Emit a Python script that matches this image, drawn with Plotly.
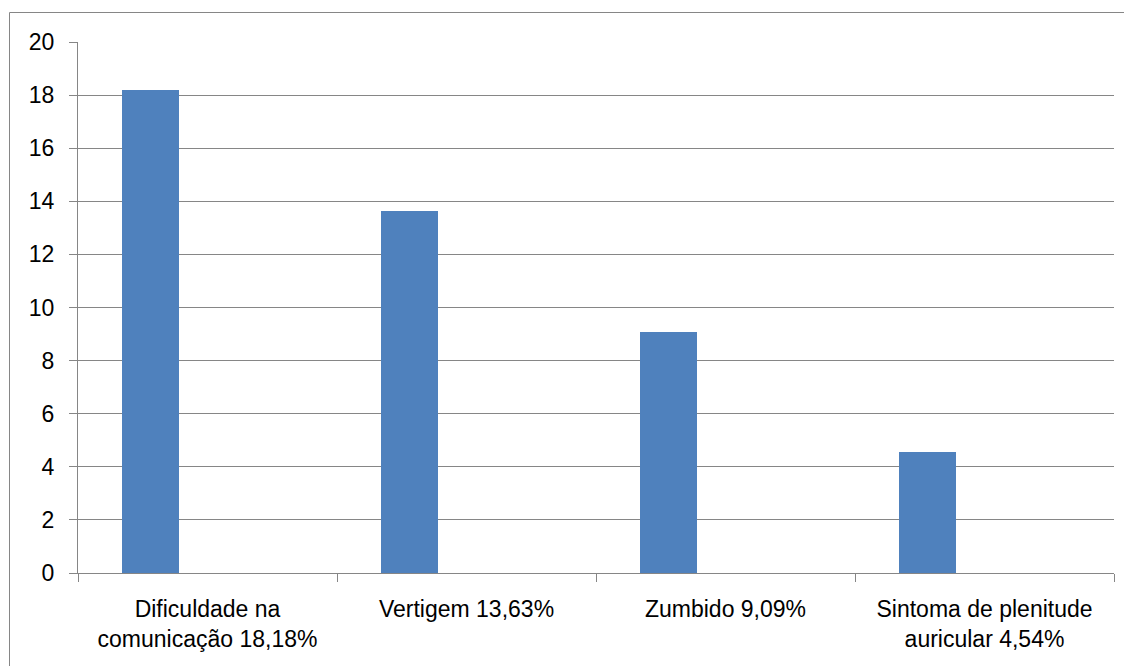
import plotly.graph_objects as go

categories = ["Dificuldade na<br>comunicação 18,18%", "Vertigem 13,63%", "Zumbido 9,09%",
              "Sintoma de plenitude<br>auricular 4,54%"]
values = [18.18, 13.63, 9.09, 4.54]
y_ticks = [0, 2, 4, 6, 8, 10, 12, 14, 16, 18, 20]

# page body has an 8px margin, so the figure starts at (8, 8)
W, H = 1124, 658
ml, mr, mt, mb = 70, 18, 34, 93

fig = go.Figure()
fig.add_trace(go.Bar(
    x=categories, y=values,
    width=0.221, offset=-0.332,
    marker=dict(color="#4F81BD", line=dict(width=0)),
    showlegend=False,
))

grey = "#868686"
font = dict(family="Liberation Sans, Arial, sans-serif", size=23, color="#000000")

fig.update_layout(
    width=W, height=H,
    margin=dict(l=ml, r=mr, t=mt, b=mb, pad=0),
    paper_bgcolor="white", plot_bgcolor="white",
    font=font,
    bargap=0,
    xaxis=dict(
        type="category",
        showline=True, linecolor=grey, linewidth=1,
        ticks="outside", tickson="boundaries", ticklen=8, tickcolor=grey, tickwidth=1,
        showgrid=False, tickfont=font, ticklabelstandoff=15,
    ),
    yaxis=dict(
        range=[0, 20], tickvals=y_ticks,
        showline=True, linecolor=grey, linewidth=1,
        ticks="outside", ticklen=8, tickcolor=grey, tickwidth=1,
        showgrid=True, gridcolor=grey, gridwidth=1,
        zeroline=False, tickfont=font, ticklabelstandoff=10,
    ),
)

pw = W - ml - mr
ph = H - mt - mb
fig.add_shape(
    type="rect", xref="paper", yref="paper",
    x0=(1.5 - ml) / pw, x1=(W + 20 - ml) / pw,
    y0=-(mb + 20) / ph, y1=(H - mb - 4.5) / ph,
    line=dict(color=grey, width=1), fillcolor="rgba(0,0,0,0)", layer="below",
)

fig.write_html("out.html")
